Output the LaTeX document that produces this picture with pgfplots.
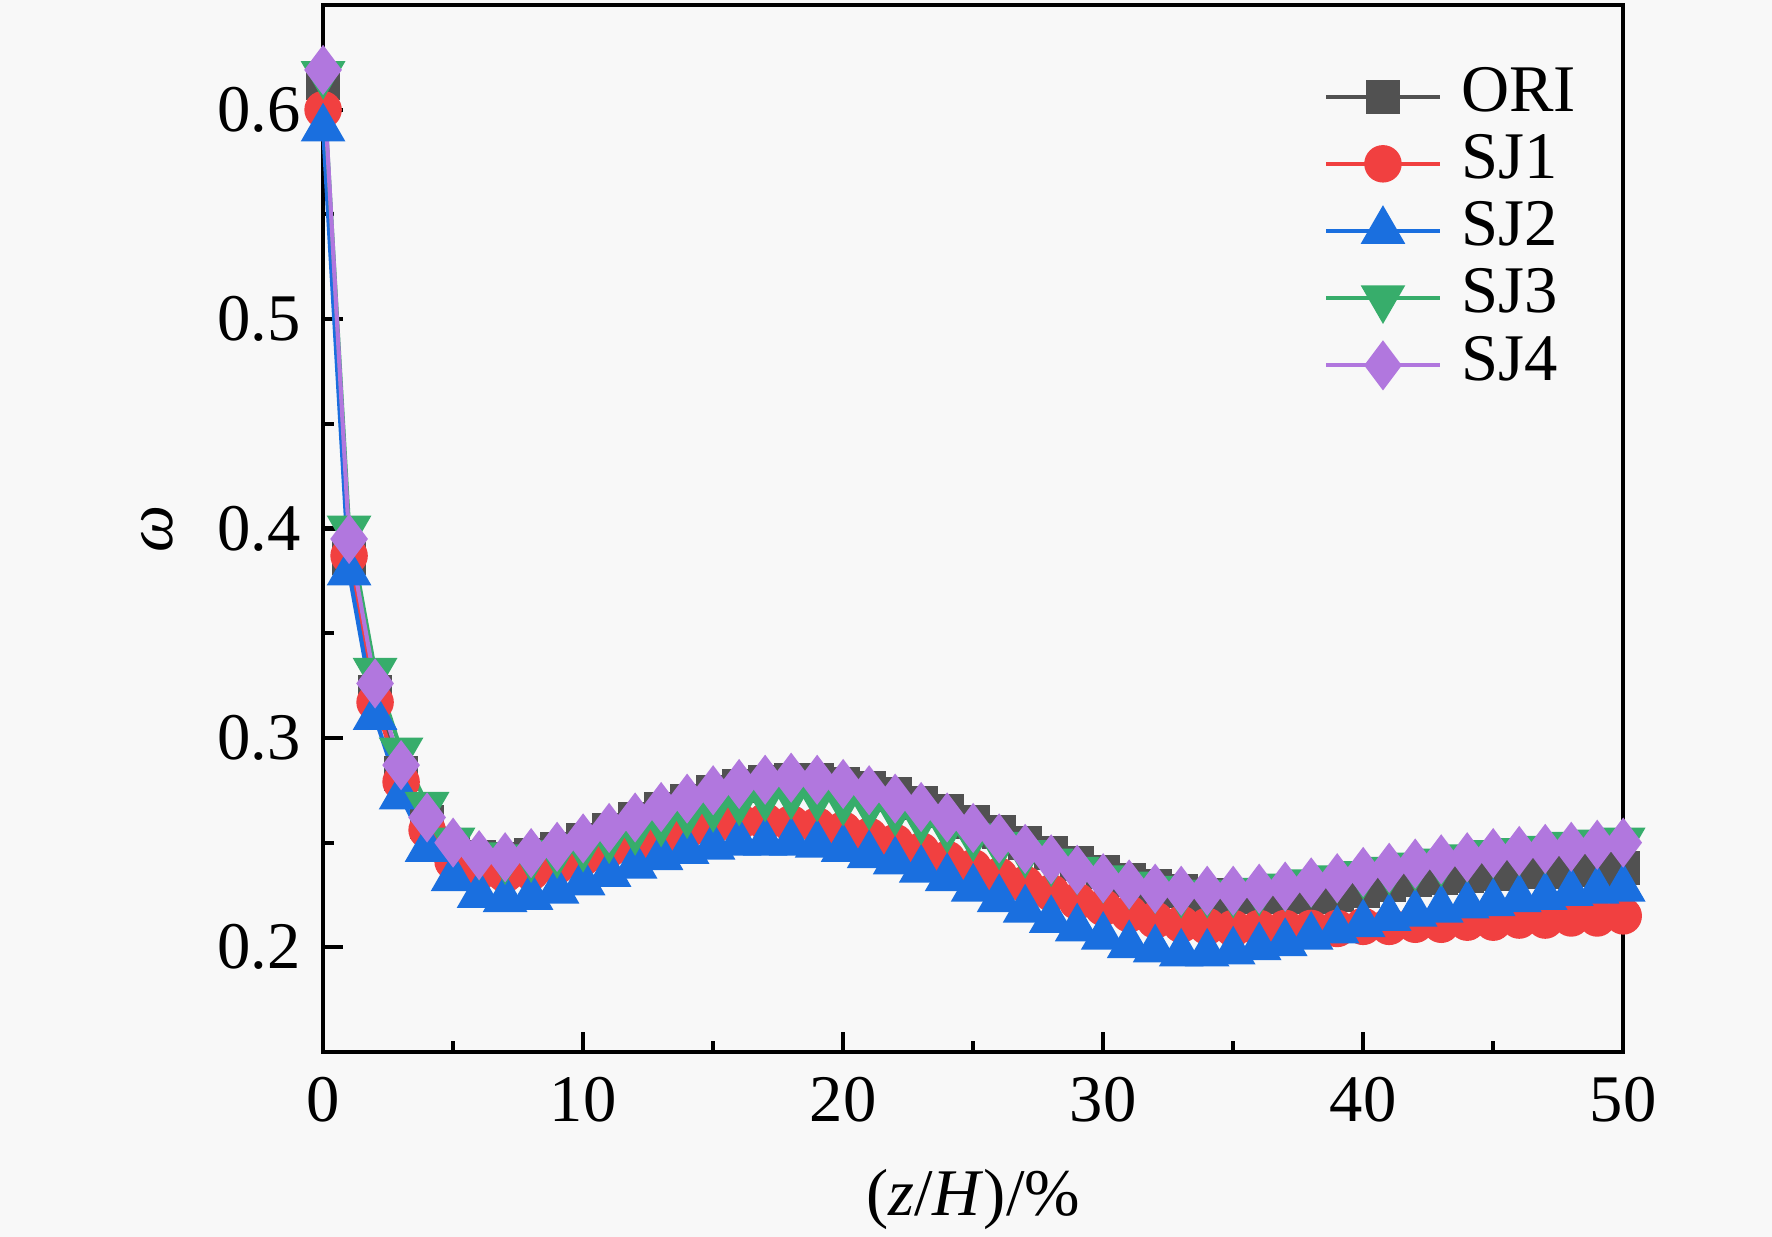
\documentclass[border=0pt]{standalone}
\usepackage{fontspec}
\setmainfont{Liberation Serif}
\usepackage{pgfplots}
\usepackage{pgfplotstable}
\pgfplotsset{compat=1.18}
\definecolor{cORI}{HTML}{515151}
\definecolor{cSJ1}{HTML}{F14040}
\definecolor{cSJ2}{HTML}{1A6FDF}
\definecolor{cSJ3}{HTML}{37AD6B}
\definecolor{cSJ4}{HTML}{B177DE}
\definecolor{bgc}{RGB}{248,248,248}
\pgfplotstableread{
x ORI SJ1 SJ2 SJ3 SJ4
0 0.613 0.600 0.591 0.617 0.619
1 0.386 0.387 0.379 0.400 0.395
2 0.322 0.317 0.310 0.332 0.326
3 0.283 0.279 0.272 0.294 0.287
4 0.260 0.256 0.247 0.268 0.262
5 0.248 0.241 0.233 0.251 0.250
6 0.243 0.236 0.225 0.244 0.244
7 0.242 0.235 0.223 0.242 0.243
8 0.244 0.236 0.224 0.243 0.245
9 0.247 0.239 0.227 0.245 0.248
10 0.251 0.243 0.231 0.248 0.252
11 0.256 0.247 0.235 0.252 0.257
12 0.261 0.250 0.239 0.256 0.262
13 0.266 0.253 0.243 0.260 0.267
14 0.270 0.256 0.246 0.264 0.271
15 0.274 0.258 0.248 0.267 0.275
16 0.277 0.260 0.250 0.270 0.278
17 0.279 0.260 0.250 0.272 0.280
18 0.280 0.259 0.250 0.273 0.281
19 0.280 0.258 0.249 0.272 0.280
20 0.278 0.256 0.247 0.270 0.278
21 0.276 0.253 0.244 0.268 0.275
22 0.273 0.250 0.241 0.265 0.271
23 0.269 0.246 0.237 0.261 0.267
24 0.265 0.242 0.233 0.257 0.262
25 0.260 0.238 0.228 0.253 0.257
26 0.255 0.234 0.223 0.249 0.252
27 0.250 0.230 0.218 0.245 0.247
28 0.245 0.226 0.213 0.241 0.242
29 0.240 0.222 0.209 0.237 0.237
30 0.236 0.219 0.205 0.233 0.233
31 0.232 0.216 0.201 0.230 0.230
32 0.229 0.213 0.199 0.228 0.228
33 0.227 0.211 0.197 0.226 0.227
34 0.225 0.210 0.197 0.226 0.227
35 0.224 0.209 0.198 0.226 0.227
36 0.224 0.209 0.200 0.227 0.228
37 0.224 0.209 0.202 0.229 0.229
38 0.224 0.209 0.205 0.231 0.231
39 0.225 0.209 0.208 0.233 0.233
40 0.227 0.210 0.211 0.235 0.236
41 0.230 0.210 0.214 0.237 0.238
42 0.232 0.211 0.216 0.239 0.240
43 0.233 0.211 0.218 0.241 0.242
44 0.234 0.212 0.220 0.243 0.243
45 0.235 0.212 0.221 0.245 0.245
46 0.236 0.213 0.223 0.246 0.246
47 0.236 0.213 0.224 0.247 0.247
48 0.237 0.214 0.226 0.249 0.248
49 0.237 0.214 0.227 0.250 0.249
50 0.238 0.215 0.228 0.251 0.250
}\datatable
\begin{document}
\begin{tikzpicture}[font=\fontsize{12}{14}\selectfont]
\fill[bgc] (-58.2pt,-33.3pt) rectangle (261pt,189.5pt);
\useasboundingbox (-58.2pt,-33.3pt) rectangle (261pt,189.5pt);
\begin{axis}[
  scale only axis, width=234.2pt, height=188.6pt,
  xmin=0, xmax=50, ymin=0.15, ymax=0.65,
  clip=false,
  axis line style={line width=0.75pt},
  every tick/.style={line width=0.75pt, black},
  xtick={0,10,...,50}, minor xtick={5,15,...,45},
  ytick={0.2,0.3,0.4,0.5,0.6}, minor ytick={0.25,0.35,0.45,0.55},
  xtick pos=bottom, ytick pos=left, tick align=inside,
  major tick length=3.6pt, minor tick length=1.9pt,
  /pgf/number format/assume math mode=true,
  yticklabel style={/pgf/number format/.cd, fixed, fixed zerofill, precision=1, /tikz/.cd, xshift=-0.5pt},
  xticklabel style={yshift=-1pt},
  xlabel={(\textit{z}/\textit{H})/\%},
  ylabel={\textit{ω}},
  xlabel style={at={(axis description cs:0.5,-0.1413)}, anchor=center},
  ylabel style={at={(axis description cs:-0.1277,0.5)}, anchor=center},
  legend style={draw=none, fill=none, at={(rel axis cs:0.769,0.9456)}, anchor=north west,
    inner sep=0pt, column sep=3pt,
    nodes={inner sep=0.5pt, text height=8.2pt, text depth=2.9pt}},
  legend cell align=left,
  legend image code/.code={\draw[mark repeat=2,mark phase=2,#1] plot coordinates {(0pt,0pt) (10.25pt,0pt) (20.5pt,0pt)};},
]
\addplot[cORI, line width=0.75pt, mark=square*, mark size=2.7pt, mark options={solid, fill=cORI, draw=cORI}] table[x=x,y=ORI] {\datatable};
\addlegendentry{ORI}
\addplot[cSJ1, line width=0.75pt, mark=*, mark size=3pt, mark options={solid, fill=cSJ1, draw=cSJ1}] table[x=x,y=SJ1] {\datatable};
\addlegendentry{SJ1}
\addplot[cSJ2, line width=0.75pt, mark=triangle*, mark size=3.9pt, mark options={solid, fill=cSJ2, draw=cSJ2}] table[x=x,y=SJ2] {\datatable};
\addlegendentry{SJ2}
\addplot[cSJ3, line width=0.75pt, mark=triangle*, mark size=3.9pt, mark options={solid, fill=cSJ3, draw=cSJ3, rotate=180}] table[x=x,y=SJ3] {\datatable};
\addlegendentry{SJ3}
\addplot[cSJ4, line width=0.75pt, mark=diamond*, mark size=3.9pt, mark options={solid, fill=cSJ4, draw=cSJ4}] table[x=x,y=SJ4] {\datatable};
\addlegendentry{SJ4}
\end{axis}
\end{tikzpicture}
\end{document}
